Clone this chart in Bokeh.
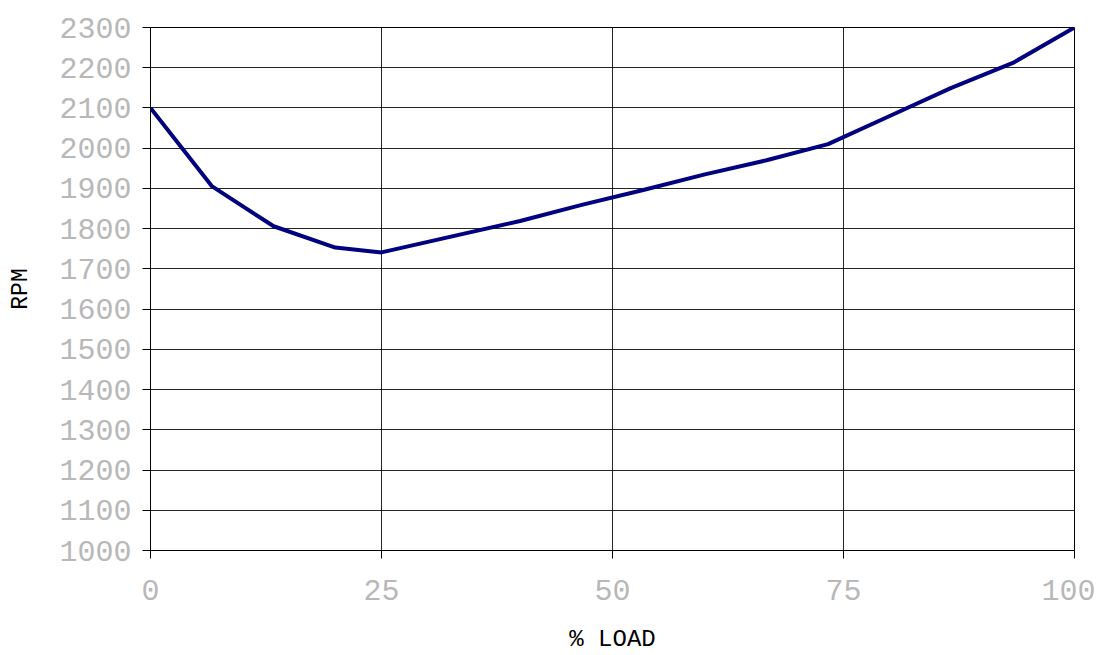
from bokeh.plotting import figure
from bokeh.models import Range1d, FixedTicker
from bokeh.embed import file_html
from bokeh.resources import INLINE

load_pct = [0, 6.67, 13.33, 20, 25, 40, 46.67, 53.33, 60, 66.67, 73.33, 80, 86.67, 93.33, 100]
rpm = [2100, 1905, 1806, 1753, 1741, 1819, 1859, 1896, 1935, 1970, 2010, 2080, 2150, 2212, 2300]

x_ticks = [0, 25, 50, 75, 100]
y_ticks = list(range(1000, 2301, 100))

p = figure(width=1095, height=655, output_backend="svg", toolbar_location=None,
           x_range=Range1d(0, 100), y_range=Range1d(1000, 2300),
           min_border_left=150, min_border_right=21, min_border_top=27, min_border_bottom=104)

p.line(load_pct, rpm, line_color="#000080", line_width=4, line_join="round")

mono = "Liberation Mono"
for ax in (p.xaxis[0], p.yaxis[0]):
    ax.axis_line_color = "black"
    ax.major_tick_line_color = "black"
    ax.major_tick_out = 8
    ax.major_tick_in = 0
    ax.minor_tick_line_color = None
    ax.major_label_text_font = mono
    ax.major_label_text_color = "#b8b8b8"
    ax.major_label_text_font_size = "30px"
    ax.axis_label_text_font = mono
    ax.axis_label_text_font_style = "normal"
    ax.axis_label_text_color = "black"

p.xaxis.ticker = FixedTicker(ticks=x_ticks)
p.yaxis.ticker = FixedTicker(ticks=y_ticks)
p.xaxis.axis_label = "% LOAD"
p.yaxis.axis_label = "RPM"
p.xaxis.axis_label_text_font_size = "24px"
p.yaxis.axis_label_text_font_size = "23px"
p.xaxis.major_label_standoff = 21
p.yaxis.major_label_standoff = 11
p.xaxis.axis_label_standoff = 23
p.yaxis.axis_label_standoff = 22

p.xgrid.ticker = FixedTicker(ticks=x_ticks)
p.ygrid.ticker = FixedTicker(ticks=y_ticks)
p.grid.grid_line_color = "black"
p.grid.grid_line_alpha = 0.85
p.grid.grid_line_width = 1
p.outline_line_color = "black"

open("out.html", "w").write(file_html(p, INLINE))
